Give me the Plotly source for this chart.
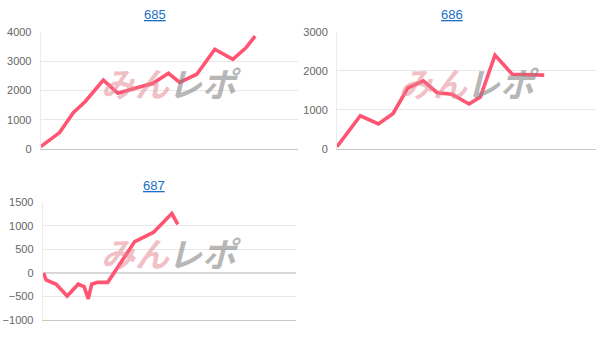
import plotly.graph_objects as go

titles = ["685", "686", "687"]

# x = day index (0..30 scale), y = value
x685 = [0, 2.2, 3.8, 5.2, 7.3, 9.0, 11.0, 13.1, 14.9, 16.2, 18.2, 20.3, 22.4, 23.9, 25.0]
y685 = [80, 560, 1240, 1620, 2350, 1900, 2070, 2240, 2580, 2270, 2550, 3400, 3060, 3440, 3850]

x686 = [0, 2.7, 4.8, 6.5, 8.2, 10.0, 11.6, 13.3, 15.3, 16.6, 18.3, 20.3, 24.0]
y686 = [60, 850, 640, 910, 1560, 1740, 1440, 1400, 1150, 1330, 2400, 1910, 1890]

x687 = [0.1, 0.4, 1.6, 2.9, 4.2, 4.9, 5.4, 5.8, 6.5, 7.7, 10.9, 13.1, 15.3, 16.0]
y687 = [0, -150, -240, -490, -240, -290, -550, -240, -200, -200, 665, 860, 1260, 1030]

yranges = [[0, 4000], [0, 3000], [-1000, 1500]]
ydtick = [1000, 1000, 500]

W, H = 607, 346
# pixel boxes (x0, x1, ytop, ybottom)
boxes = [(40.7, 298, 31.7, 149), (337, 596, 31.7, 149), (42.7, 296, 202.3, 320)]
title_pos = [(155, 15), (452, 15), (154, 185.7)]

line_color = "#ff5472"
fig = go.Figure()
series = [(x685, y685), (x686, y686), (x687, y687)]
layout = dict(width=W, height=H, margin=dict(l=0, r=0, t=0, b=0, pad=0, autoexpand=False),
              paper_bgcolor="white", plot_bgcolor="white", showlegend=False,
              font=dict(family="Liberation Sans, Arial, sans-serif", size=11, color="#666666"))
annotations = []
for i, ((xs, ys), (x0, x1, yt, yb)) in enumerate(zip(series, boxes)):
    n = "" if i == 0 else str(i + 1)
    fig.add_trace(go.Scatter(x=xs, y=ys, mode="lines", xaxis="x" + n, yaxis="y" + n,
                             line=dict(color=line_color, width=3.6), hoverinfo="skip"))
    layout["xaxis" + n] = dict(domain=[x0 / W, x1 / W], range=[0, 30], showticklabels=False,
                               showgrid=False, zeroline=False, showline=True, linecolor="#c8c8c8",
                               linewidth=1, anchor="y" + n, fixedrange=True, automargin=False)
    layout["yaxis" + n] = dict(domain=[1 - yb / H, 1 - yt / H], range=yranges[i], dtick=ydtick[i],
                               showgrid=True, gridcolor="#e8e8e8", gridwidth=1,
                               zeroline=(i == 2), zerolinecolor="#d8d8d8", zerolinewidth=1.5,
                               showline=True, linecolor="#ececec", linewidth=1,
                               ticks="outside", ticklen=6, tickcolor="rgba(0,0,0,0)",
                               anchor="x" + n, fixedrange=True, automargin=False,
                               tickfont=dict(size=11, color="#666666"))
    tx, ty = title_pos[i]
    annotations.append(dict(text="<u>" + titles[i] + "</u>", x=tx / W, y=1 - ty / H,
                            xref="paper", yref="paper", showarrow=False,
                            xanchor="center", yanchor="middle",
                            font=dict(size=13, color="#1a6fc8",
                                      family="Liberation Sans, Arial, sans-serif")))
    # watermark
    cx = x0 + (x1 - x0) * 0.50
    cy = yt + (yb - yt) * 0.43
    annotations.append(dict(text="<b><i>みん</i></b>", x=(cx + 3) / W, y=1 - cy / H,
                            xref="paper", yref="paper", showarrow=False,
                            xanchor="right", yanchor="middle",
                            font=dict(size=34, color="rgba(228,130,142,0.5)",
                                      family="Noto Sans CJK JP")))
    annotations.append(dict(text="<b><i>レポ</i></b>", x=(cx - 3) / W, y=1 - cy / H,
                            xref="paper", yref="paper", showarrow=False,
                            xanchor="left", yanchor="middle",
                            font=dict(size=34, color="rgba(135,135,135,0.6)",
                                      family="Noto Sans CJK JP")))
layout["annotations"] = annotations
fig.update_layout(**layout)
fig.write_html("out.html", config={"displayModeBar": False})
